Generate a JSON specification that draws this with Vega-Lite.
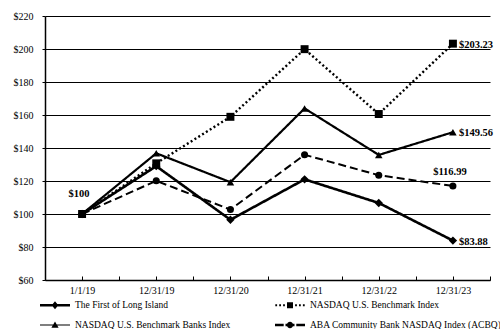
{
  "$schema": "https://vega.github.io/schema/vega-lite/v6.json",
  "autosize": "none",
  "width": 445,
  "height": 264,
  "padding": {"left": 45, "top": 16, "right": 10, "bottom": 49},
  "background": "white",
  "config": {
    "font": "Liberation Serif",
    "view": {"stroke": null},
    "axis": {
      "labelFont": "Liberation Serif",
      "labelFontSize": 10,
      "labelColor": "black",
      "domainColor": "black",
      "tickColor": "black",
      "title": null
    }
  },
  "datasets": {
    "returns": [
      {"idx": 0, "date": "1/1/19", "series": "The First of Long Island", "value": 100},
      {"idx": 1, "date": "12/31/19", "series": "The First of Long Island", "value": 129},
      {"idx": 2, "date": "12/31/20", "series": "The First of Long Island", "value": 96.5},
      {"idx": 3, "date": "12/31/21", "series": "The First of Long Island", "value": 121},
      {"idx": 4, "date": "12/31/22", "series": "The First of Long Island", "value": 106.7},
      {"idx": 5, "date": "12/31/23", "series": "The First of Long Island", "value": 83.88},
      {"idx": 0, "date": "1/1/19", "series": "NASDAQ U.S. Benchmark Index", "value": 100},
      {"idx": 1, "date": "12/31/19", "series": "NASDAQ U.S. Benchmark Index", "value": 130.7},
      {"idx": 2, "date": "12/31/20", "series": "NASDAQ U.S. Benchmark Index", "value": 158.9},
      {"idx": 3, "date": "12/31/21", "series": "NASDAQ U.S. Benchmark Index", "value": 199.9},
      {"idx": 4, "date": "12/31/22", "series": "NASDAQ U.S. Benchmark Index", "value": 160.6},
      {"idx": 5, "date": "12/31/23", "series": "NASDAQ U.S. Benchmark Index", "value": 203.23},
      {"idx": 0, "date": "1/1/19", "series": "NASDAQ U.S. Benchmark Banks Index", "value": 100},
      {"idx": 1, "date": "12/31/19", "series": "NASDAQ U.S. Benchmark Banks Index", "value": 136.8},
      {"idx": 2, "date": "12/31/20", "series": "NASDAQ U.S. Benchmark Banks Index", "value": 119.3},
      {"idx": 3, "date": "12/31/21", "series": "NASDAQ U.S. Benchmark Banks Index", "value": 164},
      {"idx": 4, "date": "12/31/22", "series": "NASDAQ U.S. Benchmark Banks Index", "value": 135.8},
      {"idx": 5, "date": "12/31/23", "series": "NASDAQ U.S. Benchmark Banks Index", "value": 149.56},
      {"idx": 0, "date": "1/1/19", "series": "ABA Community Bank NASDAQ Index (ACBQ)", "value": 100},
      {"idx": 1, "date": "12/31/19", "series": "ABA Community Bank NASDAQ Index (ACBQ)", "value": 120.1},
      {"idx": 2, "date": "12/31/20", "series": "ABA Community Bank NASDAQ Index (ACBQ)", "value": 102.7},
      {"idx": 3, "date": "12/31/21", "series": "ABA Community Bank NASDAQ Index (ACBQ)", "value": 135.9},
      {"idx": 4, "date": "12/31/22", "series": "ABA Community Bank NASDAQ Index (ACBQ)", "value": 123.5},
      {"idx": 5, "date": "12/31/23", "series": "ABA Community Bank NASDAQ Index (ACBQ)", "value": 116.99}
    ]
  },
  "data": {"name": "returns"},
  "encoding": {
    "x": {
      "field": "idx",
      "type": "quantitative",
      "scale": {"domain": [-0.5, 5.5], "nice": false, "zero": false},
      "axis": {
        "values": [-0.5, 0, 0.5, 1, 1.5, 2, 2.5, 3, 3.5, 4, 4.5, 5, 5.5],
        "labelExpr": "datum.value % 1 == 0 ? ['1/1/19','12/31/19','12/31/20','12/31/21','12/31/22','12/31/23'][datum.value] : ''",
        "grid": false,
        "domainWidth": 1.5,
        "tickSize": -4,
        "tickWidth": 1,
        "labelPadding": 9,
        "labelFlush": false,
        "labelOverlap": false
      }
    },
    "y": {
      "field": "value",
      "type": "quantitative",
      "scale": {"domain": [60, 220], "nice": false, "zero": false},
      "axis": {
        "values": [60, 80, 100, 120, 140, 160, 180, 200, 220],
        "format": "$.0f",
        "grid": true,
        "gridColor": "black",
        "gridOpacity": 1,
        "gridWidth": 1,
        "domainWidth": 1.5,
        "tickSize": 3,
        "labelPadding": 9
      }
    }
  },
  "layer": [
    {
      "mark": {"type": "line", "color": "black"},
      "encoding": {
        "detail": {"field": "series"},
        "strokeDash": {
          "field": "series",
          "type": "nominal",
          "scale": {
            "domain": ["The First of Long Island", "NASDAQ U.S. Benchmark Index", "NASDAQ U.S. Benchmark Banks Index", "ABA Community Bank NASDAQ Index (ACBQ)"],
            "range": [[1, 0], [2, 2.5], [1, 0], [8, 4]]
          },
          "legend": null
        },
        "strokeWidth": {
          "field": "series",
          "type": "nominal",
          "scale": {
            "domain": ["The First of Long Island", "NASDAQ U.S. Benchmark Index", "NASDAQ U.S. Benchmark Banks Index", "ABA Community Bank NASDAQ Index (ACBQ)"],
            "range": [2.6, 2, 1, 2.6]
          },
          "legend": null
        }
      }
    },
    {
      "mark": {"type": "point", "filled": true, "color": "black", "opacity": 1},
      "encoding": {
        "shape": {
          "field": "series",
          "type": "nominal",
          "scale": {
            "domain": ["The First of Long Island", "NASDAQ U.S. Benchmark Index", "NASDAQ U.S. Benchmark Banks Index", "ABA Community Bank NASDAQ Index (ACBQ)"],
            "range": ["diamond", "square", "triangle-up", "circle"]
          },
          "legend": null
        },
        "size": {
          "field": "series",
          "type": "nominal",
          "scale": {
            "domain": ["The First of Long Island", "NASDAQ U.S. Benchmark Index", "NASDAQ U.S. Benchmark Banks Index", "ABA Community Bank NASDAQ Index (ACBQ)"],
            "range": [70, 50, 75, 85]
          },
          "legend": null
        }
      }
    },
    {
      "mark": {"type": "point", "filled": true, "color": "black", "opacity": 0},
      "encoding": {
        "shape": {
          "field": "series",
          "type": "nominal",
          "scale": {
            "domain": ["The First of Long Island", "NASDAQ U.S. Benchmark Index", "NASDAQ U.S. Benchmark Banks Index", "ABA Community Bank NASDAQ Index (ACBQ)"],
            "range": [
              "M-1,-0.08H1V0.08H-1Z M0,-0.26L0.22,0L0,0.26L-0.22,0Z",
              "M-0.98,-0.06h0.12v0.12h-0.12Z M-0.72,-0.06h0.12v0.12h-0.12Z M-0.46,-0.06h0.12v0.12h-0.12Z M-0.2,-0.2H0.2V0.2H-0.2Z M0.34,-0.06h0.12v0.12h-0.12Z M0.6,-0.06h0.12v0.12h-0.12Z M0.86,-0.06h0.12v0.12h-0.12Z",
              "M-1,-0.035H1V0.035H-1Z M0,-0.24L0.24,0.18L-0.24,0.18Z",
              "M-1,-0.08H-0.42V0.08H-1Z M-0.3,-0.08H0.3V0.08H-0.3Z M0.42,-0.08H1V0.08H0.42Z M0.21,0A0.21,0.21 0 1,1 -0.21,0A0.21,0.21 0 1,1 0.21,0Z"
            ]
          },
          "legend": {
            "title": null,
            "orient": "none",
            "legendX": -5,
            "legendY": 274,
            "direction": "horizontal",
            "columns": 2,
            "gridAlign": "all",
            "columnPadding": 8,
            "rowPadding": -13,
            "symbolSize": 900,
            "symbolFillColor": "black",
            "symbolStrokeColor": "black",
            "symbolStrokeWidth": 0,
            "symbolOpacity": 1,
            "labelFont": "Liberation Serif",
            "labelFontSize": 9.5,
            "labelColor": "black",
            "labelOffset": 5,
            "labelLimit": 300
          }
        }
      }
    },
    {
      "transform": [{"filter": "datum.idx == 0 && datum.series == 'The First of Long Island'"}],
      "mark": {"type": "text", "font": "Liberation Serif", "fontSize": 10.5, "fontWeight": "bold", "color": "black", "dx": -3, "dy": -20},
      "encoding": {"text": {"field": "value", "type": "quantitative", "format": "$.0f"}}
    },
    {
      "transform": [{"filter": "datum.idx == 5 && datum.series != 'ABA Community Bank NASDAQ Index (ACBQ)'"}],
      "mark": {"type": "text", "font": "Liberation Serif", "fontSize": 10.5, "fontWeight": "bold", "color": "black", "align": "left", "dx": 6, "dy": 1},
      "encoding": {"text": {"field": "value", "type": "quantitative", "format": "$.2f"}}
    },
    {
      "transform": [{"filter": "datum.idx == 5 && datum.series == 'ABA Community Bank NASDAQ Index (ACBQ)'"}],
      "mark": {"type": "text", "font": "Liberation Serif", "fontSize": 10.5, "fontWeight": "bold", "color": "black", "dx": -3, "dy": -14},
      "encoding": {"text": {"field": "value", "type": "quantitative", "format": "$.2f"}}
    }
  ],
  "resolve": {"scale": {"shape": "independent"}}
}
